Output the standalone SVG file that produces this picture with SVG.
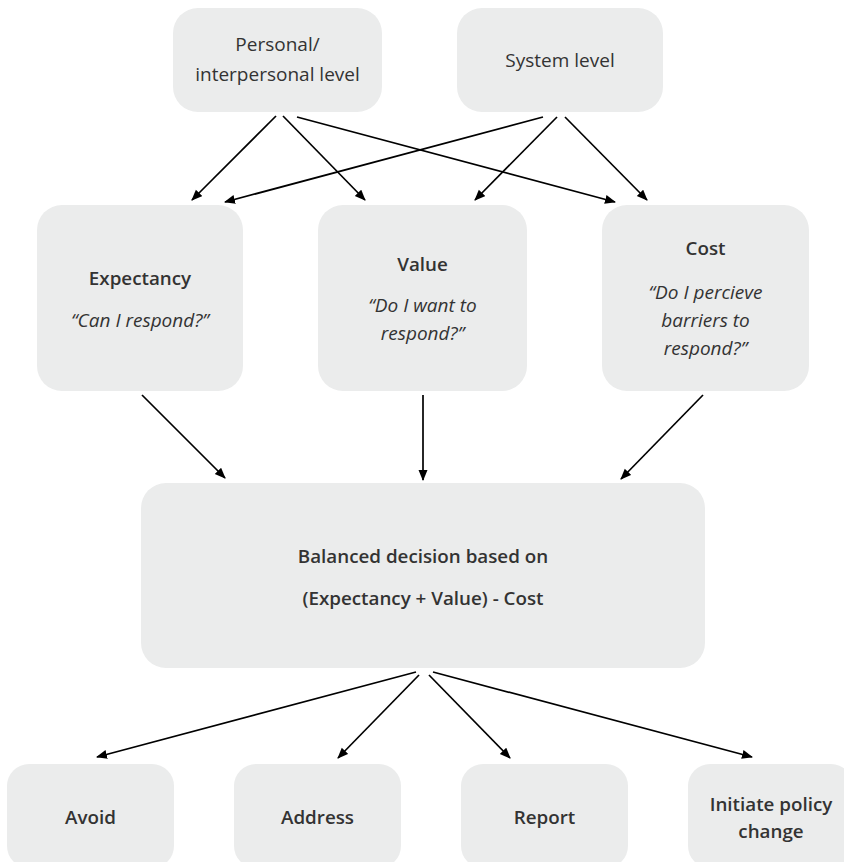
<svg xmlns="http://www.w3.org/2000/svg" width="844" height="862" viewBox="0 0 844 862">
  <style>
    .box { fill: #ebecec; }
    .t { font-family: "Open Sans", "Noto Sans", "Liberation Sans", sans-serif; fill: #333333; text-anchor: middle; }
    .reg { font-size: 19px; font-weight: 400; }
    .bold { font-size: 18.8px; font-weight: 600; }
    .ital { font-size: 19px; font-style: italic; font-weight: 400; }
    .edge { stroke: #000; stroke-width: 1.7; fill: none; marker-end: url(#arrow); }
  </style>
  <defs>
    <marker id="arrow" markerUnits="userSpaceOnUse" markerWidth="12" markerHeight="10" refX="10" refY="4.5" orient="auto">
      <path d="M0,0 L11,4.5 L0,9 Z" fill="#000"/>
    </marker>
  </defs>
  <rect width="844" height="862" fill="#ffffff"/>

  <g id="personal">
    <rect class="box" x="173" y="8" width="209" height="104" rx="25"/>
    <text class="t reg" x="277.5" y="51">Personal/</text>
    <text class="t reg" x="277.5" y="81">interpersonal level</text>
  </g>
  <g id="system">
    <rect class="box" x="457" y="8" width="206" height="104" rx="25"/>
    <text class="t reg" x="560" y="67">System level</text>
  </g>

  <g id="expectancy">
    <rect class="box" x="37" y="205" width="206" height="186" rx="25"/>
    <text class="t bold" x="140" y="285">Expectancy</text>
    <text class="t ital" x="140" y="327">“Can I respond?”</text>
  </g>
  <g id="value">
    <rect class="box" x="318" y="205" width="209" height="186" rx="25"/>
    <text class="t bold" x="422.5" y="271">Value</text>
    <text class="t ital" x="422.5" y="312">“Do I want to</text>
    <text class="t ital" x="422.5" y="340">respond?”</text>
  </g>
  <g id="cost">
    <rect class="box" x="602" y="205" width="207" height="186" rx="25"/>
    <text class="t bold" x="705.5" y="255">Cost</text>
    <text class="t ital" x="705.5" y="299">“Do I percieve</text>
    <text class="t ital" x="705.5" y="327">barriers to</text>
    <text class="t ital" x="705.5" y="355">respond?”</text>
  </g>

  <g id="decision">
    <rect class="box" x="141" y="483" width="564" height="185" rx="25"/>
    <text class="t bold" x="423" y="563">Balanced decision based on</text>
    <text class="t bold" x="423" y="605">(Expectancy + Value) - Cost</text>
  </g>

  <g id="avoid">
    <rect class="box" x="7" y="764" width="167" height="104" rx="22"/>
    <text class="t bold" x="90.5" y="824">Avoid</text>
  </g>
  <g id="address">
    <rect class="box" x="234" y="764" width="167" height="104" rx="22"/>
    <text class="t bold" x="317.5" y="824">Address</text>
  </g>
  <g id="report">
    <rect class="box" x="461" y="764" width="167" height="104" rx="22"/>
    <text class="t bold" x="544.5" y="824">Report</text>
  </g>
  <g id="policy">
    <rect class="box" x="688" y="764" width="165" height="104" rx="22"/>
    <text class="t bold" x="771" y="811">Initiate policy</text>
    <text class="t bold" x="771" y="838">change</text>
  </g>

  <g id="connectors">
    <line class="edge" x1="276" y1="116" x2="192" y2="200"/>
    <line class="edge" x1="283" y1="116" x2="365" y2="200"/>
    <line class="edge" x1="297" y1="117" x2="615" y2="202"/>
    <line class="edge" x1="543" y1="117" x2="225" y2="202"/>
    <line class="edge" x1="557" y1="117" x2="475" y2="200"/>
    <line class="edge" x1="565" y1="117" x2="647" y2="200"/>

    <line class="edge" x1="142" y1="395" x2="225" y2="478"/>
    <line class="edge" x1="423" y1="395" x2="423" y2="480"/>
    <line class="edge" x1="703" y1="395" x2="621" y2="479"/>

    <line class="edge" x1="416" y1="672" x2="97" y2="757"/>
    <line class="edge" x1="419" y1="675" x2="338" y2="758"/>
    <line class="edge" x1="429" y1="675" x2="510" y2="758"/>
    <line class="edge" x1="433" y1="672" x2="752" y2="757"/>
  </g>
</svg>
